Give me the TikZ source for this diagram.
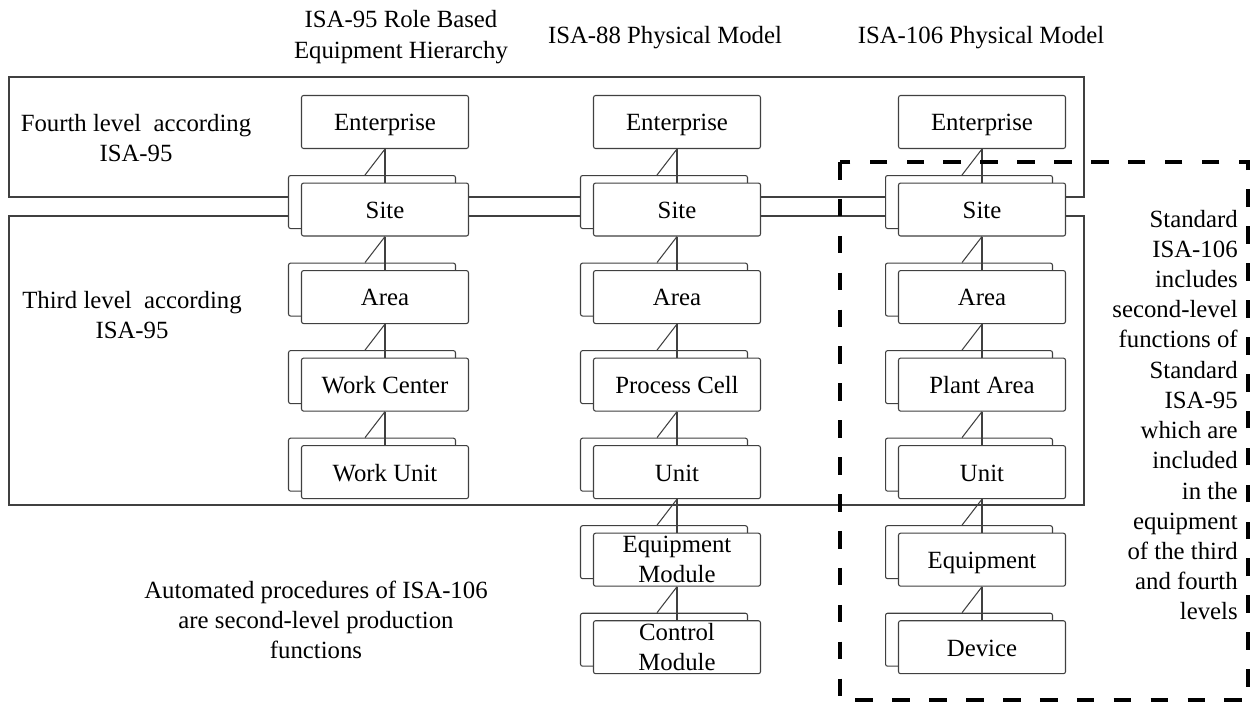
\documentclass[tikz,border=0pt]{standalone}
\usepackage{fontspec}
\setmainfont{Liberation Serif}
\usetikzlibrary{positioning,shadows}

\begin{document}
\begin{tikzpicture}[x=0.02cm, y=-0.02cm, node distance=0.67cm,
                    every node/.style={font=\fontsize{14.1}{17.2}\selectfont},
                    rect0/.style={draw=black!75, line width=0.6pt, fill=white, rounded corners=1.2pt, minimum width=3.34cm, minimum height=1.06cm, inner sep=0pt, align=center, text height=2.3ex, text depth=0.1ex},
                    rect/.style={rect0, copy shadow={shadow xshift=-0.26cm, shadow yshift=0.15cm, draw=black!75, line width=0.6pt, fill=white}},
                    rect2/.style={rect, text height={}, text depth={}},
                    link/.style={draw=black!75, line width=0.6pt},
                    frame/.style={draw=black!75, line width=0.6pt},
                    dashfrm/.style={draw=black, line width=2.3pt, dash pattern=on 10pt off 11pt},
                    txt/.style={align=center, inner sep=0pt}]
  \useasboundingbox (0,0) rectangle (1258,705);
  \draw[frame] (9,77) rectangle (1084,197);
  \draw[frame] (9,216) rectangle (1084,505);

  \node[txt] (head_95) at (401,37) {ISA-95 Role Based\\Equipment Hierarchy};
  \node[txt] (head_88) at (665,38) {ISA-88 Physical Model};
  \node[txt] (head_106) at (981,38) {ISA-106 Physical Model};

  \node[txt] (lvl_4) at (136,138) {Fourth level~ according\\ISA-95};
  \node[txt] (lvl_3) at (132,315) {Third level~ according\\ISA-95};
  \node[txt] (auto_106) at (316,620) {Automated procedures of ISA-106\\are second-level production\\functions};

  \node[rect0] (ent_95) at (385,122) {Enterprise};
  \node[rect, below=of ent_95] (site_95) {Site};
  \node[rect, below=of site_95] (area_95) {Area};
  \node[rect, below=of area_95] (wc_95) {Work Center};
  \node[rect, below=of wc_95] (wu_95) {Work Unit};

  \node[rect0] (ent_88) at (677,122) {Enterprise};
  \node[rect, below=of ent_88] (site_88) {Site};
  \node[rect, below=of site_88] (area_88) {Area};
  \node[rect, below=of area_88] (cell_88) {Process Cell};
  \node[rect, below=of cell_88] (unit_88) {Unit};
  \node[rect2, below=of unit_88] (em_88) {Equipment\\Module};
  \node[rect2, below=of em_88] (cm_88) {Control\\Module};

  \node[rect0] (ent_106) at (982,122) {Enterprise};
  \node[rect, below=of ent_106] (site_106) {Site};
  \node[rect, below=of site_106] (area_106) {Area};
  \node[rect, below=of area_106] (pa_106) {Plant Area};
  \node[rect, below=of pa_106] (unit_106) {Unit};
  \node[rect, below=of unit_106] (eq_106) {Equipment};
  \node[rect, below=of eq_106] (dev_106) {Device};

  \foreach \a/\b in {ent_95/site_95, site_95/area_95, area_95/wc_95, wc_95/wu_95,
                     ent_88/site_88, site_88/area_88, area_88/cell_88, cell_88/unit_88, unit_88/em_88, em_88/cm_88,
                     ent_106/site_106, site_106/area_106, area_106/pa_106, pa_106/unit_106, unit_106/eq_106, eq_106/dev_106}{
    \draw[link] (\a.south) -- (\b.north);
    \draw[link] (\a.south) -- ([shift={(-20,-7.5)}]\b.north);
  }

  \node[txt, anchor=east, align=right] (note_106) at (1238,415) {Standard\\ISA-106\\includes\\second-level\\functions of\\Standard\\ISA-95\\which are\\included\\in the\\equipment\\of the third\\and fourth\\levels};
  \draw[dashfrm] (840,162) rectangle (1248,700);
\end{tikzpicture}
\end{document}
